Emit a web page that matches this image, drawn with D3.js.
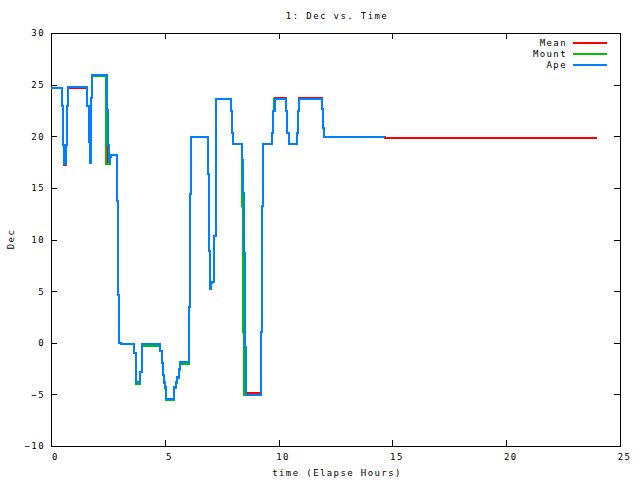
<!DOCTYPE html>
<html>
<head>
<meta charset="utf-8">
<script src="https://cdn.jsdelivr.net/npm/d3@7"></script>
<style>
  body { margin: 0; background: #fff; }
  svg text { font-family: 'DejaVu Sans Mono', monospace; font-size: 9px; letter-spacing: 1.4px; fill: #000; }
  .axis line, .axis path { stroke: #000; }
  .series { fill: none; stroke-width: 2px; }
</style>
</head>
<body>
<div id="chart"></div>
<script>
// Step data: [elapsed hours, Dec]
const apeData = [
  [0, 24.64], [0.50, 22.9], [0.53, 19.15], [0.58, 17.3], [0.66, 19.2], [0.70, 22.9], [0.76, 24.8],
  [1.60, 22.9], [1.65, 19.4], [1.71, 17.4], [1.74, 19.4], [1.76, 23.7], [1.82, 25.9],
  [2.45, 24.96], [2.47, 22.5], [2.50, 19.15], [2.55, 17.5], [2.59, 18.0], [2.64, 18.2],
  [2.91, 13.7], [2.96, 4.6], [3.00, 0.0], [3.06, -0.1],
  [3.66, -1.0], [3.72, -2.86], [3.75, -3.83], [3.92, -2.86], [3.98, -1.1], [4.01, -0.15],
  [4.80, -0.8], [4.86, -2.0], [4.91, -3.15], [4.95, -3.77], [5.01, -4.25], [5.05, -5.4],
  [5.40, -4.25], [5.49, -3.8], [5.55, -3.3], [5.61, -2.5], [5.67, -1.9],
  [6.08, 3.5], [6.12, 14.4], [6.16, 19.9],
  [6.91, 16.3], [6.95, 8.9], [7.00, 5.2], [7.03, 5.75], [7.09, 5.85], [7.17, 10.3], [7.23, 19.1], [7.26, 23.6],
  [7.92, 22.45], [7.97, 20.35], [8.01, 19.25],
  [8.40, 17.7], [8.45, 14.5], [8.49, 8.7], [8.54, -0.4], [8.58, -5.05],
  [9.24, 1.0], [9.28, 13.2], [9.33, 19.25],
  [9.72, 20.3], [9.77, 22.4], [9.84, 23.6],
  [10.33, 22.4], [10.38, 20.35], [10.44, 19.25],
  [10.82, 20.3], [10.87, 22.4], [10.91, 23.6],
  [11.92, 22.6], [11.96, 20.77], [12.01, 19.9], [14.67, 19.9]
];

const mountData = [
  [0, 24.64], [0.50, 22.9], [0.53, 19.15], [0.58, 17.3], [0.66, 19.2], [0.70, 22.9], [0.76, 24.8],
  [1.60, 22.9], [1.65, 19.4], [1.71, 17.4], [1.74, 19.4], [1.76, 23.7], [1.82, 25.8],
  [2.43, 17.3], [2.59, 18.0], [2.64, 18.2],
  [2.91, 13.7], [2.96, 4.6], [3.00, 0.0], [3.06, -0.1],
  [3.66, -1.0], [3.72, -2.86], [3.75, -3.95], [3.92, -2.86], [3.98, -1.1], [4.01, -0.3],
  [4.80, -0.8], [4.86, -2.0], [4.91, -3.15], [4.95, -3.9], [5.01, -4.35], [5.05, -5.5],
  [5.40, -4.35], [5.49, -3.9], [5.55, -3.4], [5.61, -2.6], [5.67, -2.05],
  [6.08, 3.5], [6.12, 14.4], [6.16, 19.9],
  [6.91, 16.3], [6.95, 8.9], [7.00, 5.2], [7.03, 5.75], [7.09, 5.85], [7.17, 10.3], [7.23, 19.1], [7.26, 23.6],
  [7.92, 22.45], [7.97, 20.35], [8.01, 19.25],
  [8.40, 13.2], [8.43, 1.0], [8.47, -5.05],
  [9.24, 1.0], [9.28, 13.2], [9.33, 19.25],
  [9.72, 20.3], [9.77, 22.4], [9.80, 23.6],
  [10.33, 22.4], [10.38, 20.35], [10.44, 19.25],
  [10.82, 20.3], [10.87, 22.4], [10.91, 23.6],
  [11.92, 22.6], [11.96, 20.77], [12.01, 19.9], [14.67, 19.9]
];

const meanData = [
  [0, 24.64], [0.50, 22.9], [0.53, 19.15], [0.58, 17.2], [0.66, 19.2], [0.70, 22.9], [0.76, 24.7],
  [1.60, 22.9], [1.65, 19.4], [1.71, 17.4], [1.74, 19.4], [1.76, 23.7], [1.82, 25.85],
  [2.44, 21.0], [2.50, 17.4], [2.59, 18.0], [2.64, 18.2],
  [2.91, 13.7], [2.96, 4.6], [3.00, 0.0], [3.06, -0.1],
  [3.66, -1.0], [3.72, -2.86], [3.75, -3.9], [3.92, -2.86], [3.98, -1.1], [4.01, -0.2],
  [4.80, -0.8], [4.86, -2.0], [4.91, -3.15], [4.95, -3.8], [5.01, -4.3], [5.05, -5.45],
  [5.40, -4.3], [5.49, -3.85], [5.55, -3.35], [5.61, -2.55], [5.67, -2.0],
  [6.08, 3.5], [6.12, 14.4], [6.16, 19.9],
  [6.91, 16.3], [6.95, 8.9], [7.00, 5.2], [7.03, 5.75], [7.09, 5.85], [7.17, 10.3], [7.23, 19.1], [7.26, 23.6],
  [7.92, 22.45], [7.97, 20.35], [8.01, 19.25],
  [8.40, 15.4], [8.45, 4.8], [8.52, -4.9],
  [9.24, 1.0], [9.28, 13.2], [9.33, 19.25],
  [9.72, 20.3], [9.77, 22.4], [9.82, 23.7],
  [10.33, 22.4], [10.38, 20.35], [10.44, 19.25],
  [10.82, 20.3], [10.87, 22.4], [10.90, 23.7],
  [11.92, 22.6], [11.96, 20.77], [12.01, 19.9], [14.67, 19.85], [24.0, 19.85]
];

const seriesNames = ["Mean", "Mount", "Ape"];
const seriesColors = ["#ff0000", "#00c000", "#0080ff"];
const xTicks = [0, 5, 10, 15, 20, 25];
const yTicks = [-10, -5, 0, 5, 10, 15, 20, 25, 30];

const width = 640, height = 480;
const margin = { top: 33, right: 20, bottom: 34, left: 51 };
const innerW = width - margin.left - margin.right;
const innerH = height - margin.top - margin.bottom;

const svg = d3.select("#chart").append("svg")
  .attr("width", width)
  .attr("height", height);

const g = svg.append("g")
  .attr("transform", `translate(${margin.left},${margin.top})`);

const x = d3.scaleLinear().domain([0, 25]).range([0, innerW]);
const y = d3.scaleLinear().domain([-10, 30]).range([innerH, 0]);

// axes with inward ticks, mirrored on the opposite side
g.append("g").attr("class", "axis")
  .attr("transform", `translate(0,${innerH})`)
  .call(d3.axisBottom(x).tickValues(xTicks).tickSize(-6).tickPadding(8).tickFormat(d3.format("d")))
  .call(a => a.selectAll("text").attr("dx", 4));
g.append("g").attr("class", "axis")
  .call(d3.axisTop(x).tickValues(xTicks).tickSize(-6).tickFormat(""));
g.append("g").attr("class", "axis")
  .call(d3.axisLeft(y).tickValues(yTicks).tickSize(-6).tickPadding(6).tickFormat(d3.format("d")));
g.append("g").attr("class", "axis")
  .attr("transform", `translate(${innerW},0)`)
  .call(d3.axisRight(y).tickValues(yTicks).tickSize(-6).tickFormat(""));
g.selectAll(".axis .domain").remove();

g.append("rect")
  .attr("width", innerW)
  .attr("height", innerH)
  .attr("fill", "none")
  .attr("stroke", "#000")
  .attr("shape-rendering", "crispEdges");
g.selectAll(".axis line").attr("shape-rendering", "crispEdges");

const line = d3.line()
  .x(d => x(d[0]))
  .y(d => y(d[1]))
  .curve(d3.curveStepAfter);

[meanData, mountData, apeData].forEach((data, i) => {
  g.append("path")
    .datum(data)
    .attr("class", "series")
    .attr("stroke", seriesColors[i])
    .attr("shape-rendering", "crispEdges")
    .attr("d", line);
});

// legend
const legend = svg.append("g").attr("transform", "translate(567,43)");
seriesNames.forEach((name, i) => {
  const row = legend.append("g").attr("transform", `translate(0,${i * 10.8})`);
  row.append("text").attr("text-anchor", "end").attr("dy", "0.35em").text(name);
  row.append("line")
    .attr("x1", 6).attr("x2", 40)
    .attr("stroke", seriesColors[i])
    .attr("stroke-width", 2)
    .attr("shape-rendering", "crispEdges");
});

// titles
svg.append("text")
  .attr("x", 337).attr("y", 16).attr("dy", "0.35em")
  .attr("text-anchor", "middle")
  .text("1: Dec vs. Time");
svg.append("text")
  .attr("x", 337).attr("y", 473).attr("dy", "0.35em")
  .attr("text-anchor", "middle")
  .text("time (Elapse Hours)");
svg.append("text")
  .attr("transform", "translate(11,239) rotate(-90)")
  .attr("dy", "0.35em")
  .attr("text-anchor", "middle")
  .text("Dec");
</script>
</body>
</html>
